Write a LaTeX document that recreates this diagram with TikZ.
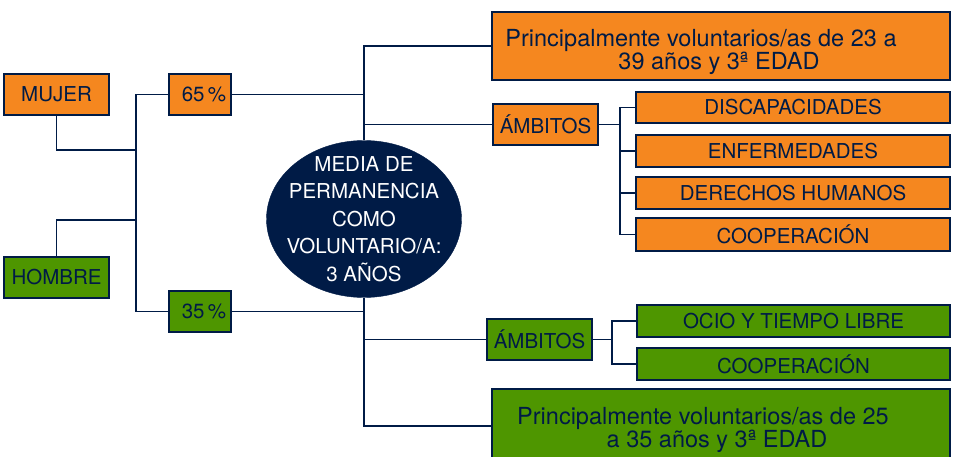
\documentclass[tikz,border=0pt]{standalone}
\usepackage{fontspec}
\setmainfont{TeX Gyre Heros}
\usetikzlibrary{shapes.geometric}
\definecolor{navy}{RGB}{0,27,70}
\definecolor{orng}{RGB}{245,135,31}
\definecolor{grn}{RGB}{78,150,0}
\begin{document}
\begin{tikzpicture}[x=1pt,y=-1pt,
  box/.style={draw=navy,line width=1.4pt,inner sep=0pt,outer sep=0pt,text=navy,align=center,
    font=\fontsize{20.5}{24}\selectfont},
  obox/.style={box,fill=orng},
  gbox/.style={box,fill=grn},
  bigbox/.style={draw=navy,line width=1.4pt,inner sep=0pt,outer sep=0pt,text=navy,
    font=\fontsize{23.5}{25.5}\selectfont},
  conn/.style={draw=navy,line width=1.6pt}]
\useasboundingbox (0,0) rectangle (955,457);
% left
\node[obox,minimum width=105pt,minimum height=41pt] (mujer) at (56.5,94.5) {MUJER};
\node[gbox,minimum width=105pt,minimum height=41pt] (hombre) at (56.5,277.5) {HOMBRE};
\node[obox,minimum width=62pt,minimum height=41pt] (p65) at (200,94.5) {\hspace{8pt}65\,\%};
\node[gbox,minimum width=62pt,minimum height=41pt] (p35) at (200,311.5) {\hspace{8pt}35\,\%};
% centre
\node[ellipse,fill=navy,draw=navy,inner xsep=-15pt,inner ysep=-15pt,outer sep=0pt,minimum width=195pt,minimum height=157pt,
  text=white,align=center,font=\fontsize{20.5}{27.5}\selectfont] (med) at (364,219)
  {MEDIA DE\\PERMANENCIA\\COMO\\VOLUNTARIO/A:\\3 AÑOS};
% top branch
\node[bigbox,fill=orng,minimum width=458pt,minimum height=68pt] (topbox) at (721,46)
  {\hspace*{-40pt}\raisebox{-7pt}[\height][\depth]{\begin{tabular}{@{}c@{}}Principalmente voluntarios/as de 23 a\\[-3pt]\hspace*{36pt}39 años y 3ª EDAD\end{tabular}}};
\node[obox,minimum width=105pt,minimum height=41pt] (amb1) at (545.5,124.5) {ÁMBITOS};
\node[obox,minimum width=314pt,minimum height=31pt] (disc) at (793,107.5) {DISCAPACIDADES};
\node[obox,minimum width=314pt,minimum height=32pt] (enf) at (793,151) {ENFERMEDADES};
\node[obox,minimum width=314pt,minimum height=32pt] (der) at (793,193) {DERECHOS HUMANOS};
\node[obox,minimum width=314pt,minimum height=33pt] (coopa) at (793,234.5) {COOPERACIÓN};
% bottom branch
\node[gbox,minimum width=105pt,minimum height=41pt] (amb2) at (539.5,339.5) {ÁMBITOS};
\node[gbox,minimum width=313pt,minimum height=32pt] (ocio) at (793.5,321) {OCIO Y TIEMPO LIBRE};
\node[gbox,minimum width=313pt,minimum height=32pt] (coopb) at (793.5,364) {COOPERACIÓN};
\node[bigbox,fill=grn,minimum width=458pt,minimum height=74pt] (botbox) at (721,426)
  {\hspace*{-36pt}\raisebox{-5pt}[\height][\depth]{\begin{tabular}{@{}c@{}}Principalmente voluntarios/as de 25\\[-3pt]\hspace*{28pt}a 35 años y 3ª EDAD\end{tabular}}};
% connectors left
\coordinate (jm) at (136,150);
\coordinate (jh) at (136,220);
\draw[conn] (mujer.south) |- (jm);
\draw[conn] (hombre.north) |- (jh);
\draw[conn] (p65.west) -- ++(-33,0) |- (p35.west);
\draw[conn] (p65.east) -- (p65.east -| med.north);
\draw[conn] (p35.east) -- (p35.east -| med.south);
% connectors centre
\draw[conn] (topbox.west) -| (med.north);
\draw[conn] (amb1.west) -- (amb1.west -| med.north);
\draw[conn] (botbox.west) -| (med.south);
\draw[conn] (amb2.west) -- (amb2.west -| med.south);
% connectors right top
\draw[conn] (disc.west) -- ++(-16,0) |- (coopa.west);
\draw[conn] (enf.west) -- ++(-16,0);
\draw[conn] (der.west) -- ++(-16,0);
\draw[conn] (amb1.east) -- (amb1.east -| 620,0);
% connectors right bottom
\draw[conn] (ocio.west) -- ++(-25,0) |- (coopb.west);
\draw[conn] (amb2.east) -- (amb2.east -| 612,0);
\end{tikzpicture}
\end{document}
